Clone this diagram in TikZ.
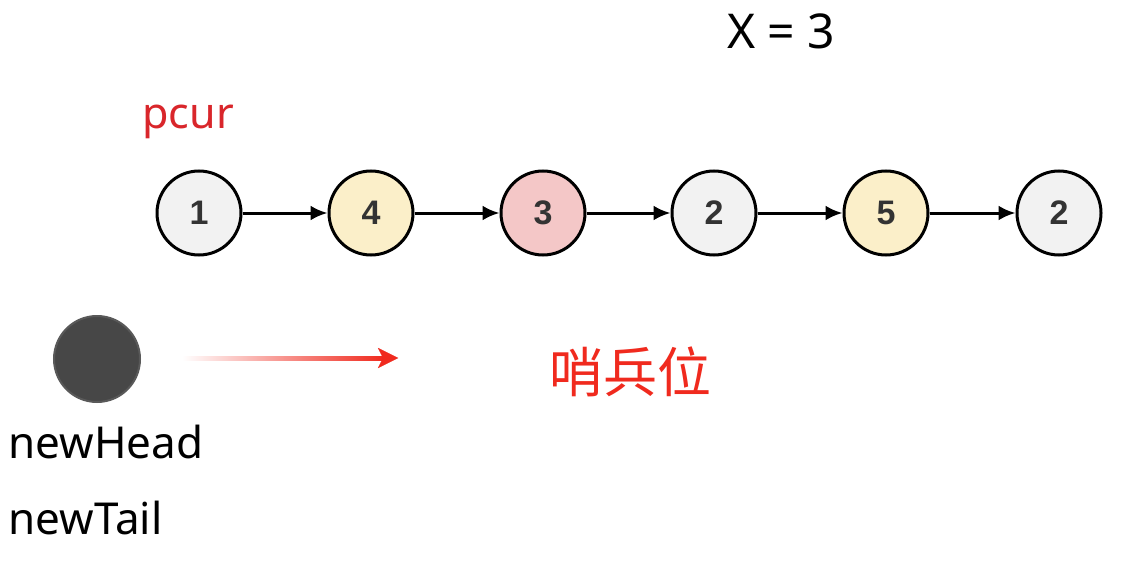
\documentclass[tikz,border=0pt]{standalone}
\usepackage{fontspec}
\setmainfont{Noto Sans}
\newfontfamily\cjk{Noto Sans CJK SC}
\newfontfamily\numfont{Liberation Sans}
\usetikzlibrary{arrows.meta}
\definecolor{ngray}{HTML}{F2F2F2}
\definecolor{nyellow}{HTML}{FBEFC9}
\definecolor{npink}{HTML}{F4C7C7}
\definecolor{txtred}{HTML}{D9262B}
\definecolor{cnred}{HTML}{F02A1E}
\tikzset{
  lnode/.style={circle, draw=black, line width=3pt, minimum size=84pt, inner sep=0pt,
    font=\numfont\bfseries\fontsize{34}{34}\selectfont, text=black!80},
  link/.style={line width=3pt, -{Latex[length=17pt,width=15pt]}},
  lbl/.style={font=\fontsize{44}{44}\selectfont, anchor=base west}
}
\begin{document}
\begin{tikzpicture}[x=1pt,y=-1pt]
\fill[white] (0,0) rectangle (1129,564);
\useasboundingbox (0,0) rectangle (1129,564);
\node[font=\fontsize{48}{48}\selectfont, anchor=base] (x) at (781,49) {X = 3};
\node[lbl, text=txtred, font=\fontsize{43}{43}\selectfont] (pcur) at (139,129) {pcur};
\node[lnode, fill=ngray] (n1) at (199,213) {1};
\node[lnode, fill=nyellow] (n2) at (371,213) {4};
\node[lnode, fill=npink] (n3) at (543,213) {3};
\node[lnode, fill=ngray] (n4) at (714,213) {2};
\node[lnode, fill=nyellow] (n5) at (886,213) {5};
\node[lnode, fill=ngray] (n6) at (1059,213) {2};
\draw[link] (n1) -- (n2);
\draw[link] (n2) -- (n3);
\draw[link] (n3) -- (n4);
\draw[link] (n4) -- (n5);
\draw[link] (n5) -- (n6);
\node[circle, draw=black!65, line width=2pt, fill=black!72, minimum size=86pt] (sent) at (97,359) {};
\coordinate (a0) at (182,358);
\coordinate (a1) at (398,358);
\shade[left color=white, right color=cnred, draw=none] ([yshift=-2pt]a0) rectangle ([xshift=-14pt,yshift=2pt]a1);
\draw[cnred, line width=0.1pt, fill=cnred] ([xshift=-20pt,yshift=-10pt]a1) -- (a1) -- ([xshift=-20pt,yshift=10pt]a1) -- ([xshift=-15pt]a1) -- cycle;
\node[font=\cjk\fontsize{54}{54}\selectfont, text=cnred] (cn) at (630,372) {哨兵位};
\node[lbl] (nh) at (5,458) {newHead};
\node[lbl] (nt) at (5,534) {newTail};
\end{tikzpicture}
\end{document}
